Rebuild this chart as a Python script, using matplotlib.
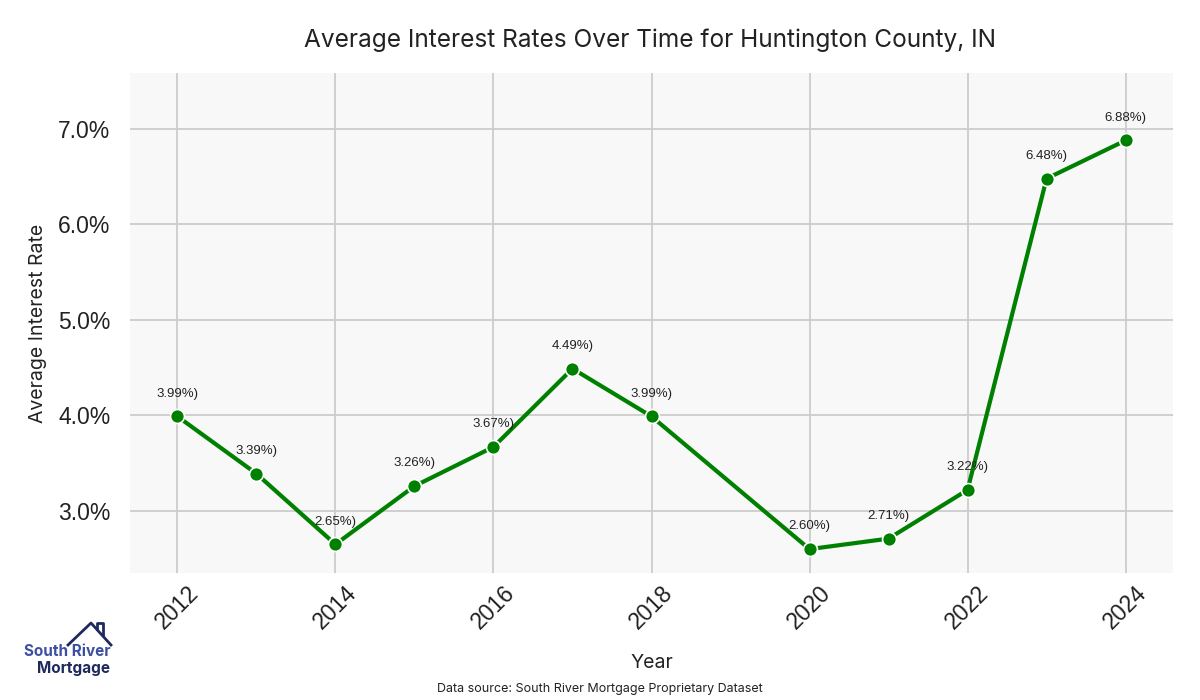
import matplotlib
matplotlib.use("Agg")
import matplotlib.pyplot as plt
from matplotlib.ticker import FuncFormatter
from matplotlib.lines import Line2D

years = [2012, 2013, 2014, 2015, 2016, 2017, 2018, 2020, 2021, 2022, 2023, 2024]
rates = [3.99, 3.39, 2.65, 3.26, 3.67, 4.49, 3.99, 2.60, 2.71, 3.22, 6.48, 6.88]
x_ticks = [2012, 2014, 2016, 2018, 2020, 2022, 2024]
y_ticks = [3.0, 4.0, 5.0, 6.0, 7.0]

title = "Average Interest Rates Over Time for Huntington County, IN"
source = "Data source: South River Mortgage Proprietary Dataset"

fig = plt.figure(figsize=(12, 7), dpi=100)
ax = fig.add_axes([130/1200, 1 - 573/700, (1173-130)/1200, (573-73)/700])
ax.set_facecolor("#f8f8f8")
for s in ax.spines.values():
    s.set_visible(False)
ax.grid(True, color="#cccccc", linewidth=1.3)
ax.set_axisbelow(True)

ax.plot(years, rates, color="#008000", linewidth=3, marker="o", markersize=10,
        markeredgecolor="white", markeredgewidth=1.2, zorder=3)
for x, y in zip(years, rates):
    ax.annotate(f"{y:.2f}%)", (x, y), xytext=(0, 12), textcoords="offset points",
                ha="center", va="bottom", fontsize=9.5, color="#222222",
                family="Liberation Sans")

ax.set_xlim(2011.4, 2024.6)
ax.set_ylim(2.35, 7.586)
ax.set_xticks(x_ticks)
ax.set_yticks(y_ticks)
ax.yaxis.set_major_formatter(FuncFormatter(lambda v, p: f"{v:.1f}%"))
ax.tick_params(axis="both", length=0, labelsize=16.5, colors="#222222")
ax.tick_params(axis="y", pad=14)
ax.tick_params(axis="x", pad=6)
for lab in ax.get_xticklabels():
    lab.set_rotation(45)
    lab.set_family("Liberation Sans")
for lab in ax.get_yticklabels():
    lab.set_family("Liberation Sans")

ax.set_xlabel("Year", fontsize=14, family="Inter", color="#222222", labelpad=15)
ax.set_ylabel("Average Interest Rate", fontsize=14, family="Inter", color="#222222", labelpad=8)
fig.text(650/1200, 1 - 40/700, title, ha="center", va="center", fontsize=17.6,
         family="Inter", color="#222222")
fig.text(600/1200, 1 - 689/700, source, ha="center", va="center", fontsize=9,
         family="Inter", color="#222222")

# logo
fig.text(67/1200, 1 - 651/700, "South River", ha="center", va="center", fontsize=11,
         fontweight="bold", family="Inter", color="#3d4fa0")
fig.text(74/1200, 1 - 669/700, "Mortgage", ha="center", va="center", fontsize=11,
         fontweight="bold", family="Inter", color="#1f2a5c")
fig.add_artist(Line2D([68/1200, 91/1200, 111/1200], [1-645/700, 1-623/700, 1-645/700],
                      color="#1f2a5c", linewidth=2))
fig.add_artist(Line2D([97/1200, 97/1200, 103/1200, 103/1200],
                      [1-629/700, 1-623/700, 1-623/700, 1-635/700],
                      color="#1f2a5c", linewidth=2))

fig.savefig("out.png", dpi=100)
